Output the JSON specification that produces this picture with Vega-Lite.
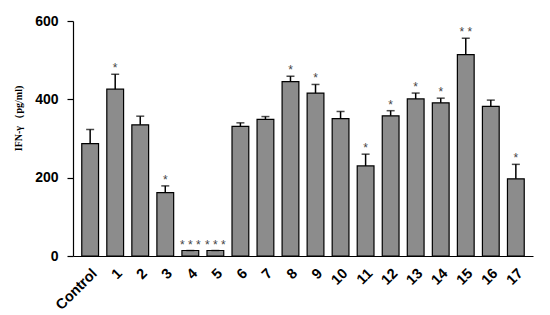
{
  "$schema": "https://vega.github.io/schema/vega-lite/v6.json",
  "autosize": {"type": "none"},
  "padding": {"left": 73, "top": 21, "right": 17, "bottom": 59},
  "width": 460,
  "height": 235,
  "background": "white",
  "config": {"view": {"stroke": null}},
  "data": {"values": [
    {"group": "Control", "value": 287, "upper": 323, "sig": ""},
    {"group": "1", "value": 426, "upper": 464, "sig": "*"},
    {"group": "2", "value": 335, "upper": 357, "sig": ""},
    {"group": "3", "value": 162, "upper": 179, "sig": "*"},
    {"group": "4", "value": 14, "upper": 14, "sig": "* * *"},
    {"group": "5", "value": 14, "upper": 14, "sig": "* * *"},
    {"group": "6", "value": 331, "upper": 340, "sig": ""},
    {"group": "7", "value": 349, "upper": 356, "sig": ""},
    {"group": "8", "value": 445, "upper": 459, "sig": "*"},
    {"group": "9", "value": 416, "upper": 438, "sig": "*"},
    {"group": "10", "value": 351, "upper": 369, "sig": ""},
    {"group": "11", "value": 230, "upper": 260, "sig": "*"},
    {"group": "12", "value": 358, "upper": 371, "sig": "*"},
    {"group": "13", "value": 401, "upper": 416, "sig": "*"},
    {"group": "14", "value": 391, "upper": 403, "sig": "*"},
    {"group": "15", "value": 514, "upper": 556, "sig": "* *"},
    {"group": "16", "value": 382, "upper": 398, "sig": ""},
    {"group": "17", "value": 197, "upper": 234, "sig": "*"}
  ]},
  "encoding": {
    "x": {
      "field": "group", "type": "nominal", "sort": null,
      "scale": {"paddingInner": 0.33, "paddingOuter": 0.35},
      "axis": {
        "title": null, "labelAngle": -45, "labelAlign": "right", "labelBaseline": "top",
        "labelFont": "Liberation Sans", "labelFontWeight": "bold", "labelFontSize": 14.5,
        "labelColor": "black", "ticks": false, "labelPadding": 10,
        "domainColor": "black", "domainWidth": 1.2
      }
    }
  },
  "layer": [
    {
      "mark": {"type": "bar", "fill": "#8c8c8c", "stroke": "black", "strokeWidth": 1.2},
      "encoding": {
        "y": {
          "field": "value", "type": "quantitative",
          "scale": {"domain": [0, 600], "nice": false},
          "axis": {
            "values": [0, 200, 400, 600], "grid": false,
            "title": "IFN-γ （pg/ml)", "titleFont": "Liberation Serif", "titleFontWeight": "bold",
            "titleFontSize": 10, "titleColor": "black", "titleX": -50, "titleY": 97,
            "labelFont": "Liberation Sans", "labelFontWeight": "bold", "labelFontSize": 14,
            "labelColor": "black", "labelPadding": 9, "tickSize": 6, "tickColor": "black",
            "domainColor": "black", "domainWidth": 1.2, "tickWidth": 1.2
          }
        }
      }
    },
    {
      "mark": {"type": "rule", "color": "black", "strokeWidth": 1.5},
      "encoding": {
        "y": {"field": "value", "type": "quantitative"},
        "y2": {"field": "upper"}
      }
    },
    {
      "mark": {"type": "tick", "color": "black", "thickness": 1.5, "size": 8},
      "encoding": {
        "y": {"field": "upper", "type": "quantitative"}
      }
    },
    {
      "mark": {"type": "text", "font": "Liberation Sans", "fontSize": 12, "color": "#444", "baseline": "middle", "dy": -6},
      "encoding": {
        "y": {"field": "upper", "type": "quantitative"},
        "text": {"field": "sig"}
      }
    }
  ]
}
